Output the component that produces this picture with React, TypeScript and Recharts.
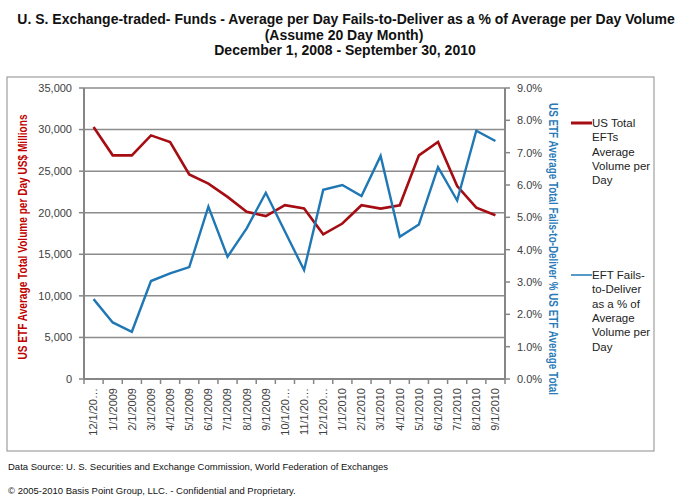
import React from "react";
import {
  LineChart,
  Line,
  XAxis,
  YAxis,
  CartesianGrid,
} from "recharts";

const months = [
  "12/1/2008", "1/1/2009", "2/1/2009", "3/1/2009", "4/1/2009", "5/1/2009",
  "6/1/2009", "7/1/2009", "8/1/2009", "9/1/2009", "10/1/2009", "11/1/2009",
  "12/1/2009", "1/1/2010", "2/1/2010", "3/1/2010", "4/1/2010", "5/1/2010",
  "6/1/2010", "7/1/2010", "8/1/2010", "9/1/2010",
];

// labels as Excel shows them (long ones cut off)
const tickLabels = [
  "12/1/20…", "1/1/2009", "2/1/2009", "3/1/2009", "4/1/2009", "5/1/2009",
  "6/1/2009", "7/1/2009", "8/1/2009", "9/1/2009", "10/1/20…", "11/1/20…",
  "12/1/20…", "1/1/2010", "2/1/2010", "3/1/2010", "4/1/2010", "5/1/2010",
  "6/1/2010", "7/1/2010", "8/1/2010", "9/1/2010",
];

// US$ millions per day
const avgVolume = [
  30300, 26900, 26900, 29300, 28500, 24600, 23500, 21900, 20100, 19600, 20900,
  20500, 17400, 18700, 20900, 20500, 20900, 26900, 28500, 23200, 20600, 19700,
];

// percent
const failsPct = [
  2.47, 1.75, 1.46, 3.03, 3.27, 3.46, 5.33, 3.78, 4.66, 5.76, 4.56,
  3.37, 5.85, 6.0, 5.66, 6.9, 4.4, 4.78, 6.55, 5.52, 7.68, 7.36,
];

const volumeTicks = [0, 5000, 10000, 15000, 20000, 25000, 30000, 35000];
const pctTicks = [0, 1, 2, 3, 4, 5, 6, 7, 8, 9];

const RED = "#a50d12";
const BLUE = "#1f77b4";
const AXIS = "#868686";
const TEXT = "#404040";

const data = months.map((m, i) => ({
  month: m,
  volume: avgVolume[i],
  fails: failsPct[i],
}));

const W = 690;
const H = 497;
const PLOT_L = 84;
const PLOT_R = 505;
const PLOT_T = 88;
const PLOT_B = 379;
const band = (PLOT_R - PLOT_L) / months.length;

const MonthTick = (props: any) => {
  const { x, y, payload } = props;
  const i = months.indexOf(payload.value);
  const left = x - band / 2;
  return (
    <g>
      <line x1={left} y1={y} x2={left} y2={y + 5} stroke={AXIS} strokeWidth={1.5} />
      {i === months.length - 1 && (
        <line x1={x + band / 2} y1={y} x2={x + band / 2} y2={y + 5} stroke={AXIS} strokeWidth={1.5} />
      )}
      <text
        x={x}
        y={y + 9}
        dy="0.35em"
        transform={`rotate(-90, ${x}, ${y + 9})`}
        textAnchor="end"
        fontSize={11}
        fontFamily="Liberation Sans, Arial, sans-serif"
        fill={TEXT}
      >
        {tickLabels[i]}
      </text>
    </g>
  );
};

const legendFont = "Liberation Sans, Arial, sans-serif";
const narrowFont = "Liberation Sans Narrow, Arial Narrow, Liberation Sans, sans-serif";

export default function App() {
  return (
    <div style={{ position: "absolute", left: 0, top: 0, width: W, height: H, background: "#fff" }}>
      <LineChart
        width={W}
        height={H}
        data={data}
        margin={{ top: PLOT_T, left: PLOT_L - 60, right: W - PLOT_R - 50, bottom: H - PLOT_B - 60 }}
      >
        <CartesianGrid yAxisId="left" vertical={false} stroke="#8c8c8c" strokeWidth={1.5} />
        <XAxis
          dataKey="month"
          height={60}
          interval={0}
          padding={{ left: band / 2, right: band / 2 }}
          tickLine={false}
          tickSize={0}
          tickMargin={0}
          axisLine={{ stroke: AXIS, strokeWidth: 2 }}
          tick={<MonthTick />}
        />
        <YAxis
          yAxisId="left"
          width={60}
          domain={[0, 35000]}
          ticks={volumeTicks}
          tickFormatter={(v) => v.toLocaleString("en-US")}
          tick={{ fontSize: 11, fill: TEXT, fontFamily: legendFont }}
          tickLine={{ stroke: AXIS, strokeWidth: 1.5 }}
          tickSize={5}
          tickMargin={7}
          axisLine={{ stroke: AXIS, strokeWidth: 2 }}
        />
        <YAxis
          yAxisId="right"
          orientation="right"
          width={50}
          domain={[0, 9]}
          ticks={pctTicks}
          tickFormatter={(v) => `${v.toFixed(1)}%`}
          tick={{ fontSize: 11, fill: TEXT, fontFamily: legendFont }}
          tickLine={{ stroke: AXIS, strokeWidth: 1.5 }}
          tickSize={5}
          tickMargin={7}
          axisLine={{ stroke: AXIS, strokeWidth: 2 }}
        />
        <Line
          yAxisId="left"
          type="linear"
          dataKey="volume"
          stroke={RED}
          strokeWidth={2.6}
          dot={false}
          isAnimationActive={false}
        />
        <Line
          yAxisId="right"
          type="linear"
          dataKey="fails"
          stroke={BLUE}
          strokeWidth={2.4}
          dot={false}
          isAnimationActive={false}
        />
      </LineChart>

      <svg
        width={W}
        height={H}
        style={{ position: "absolute", left: 0, top: 0, pointerEvents: "none" }}
      >
        <g fontFamily={narrowFont} fontWeight="bold" fontSize={14} fill="#111" textAnchor="middle">
          <text x={346} y={24}>U. S. Exchange-traded- Funds - Average per Day Fails-to-Deliver as a % of Average per Day Volume</text>
          <text x={344} y={40}>(Assume 20 Day Month)</text>
          <text x={345} y={55}>December 1, 2008 - September 30, 2010</text>
        </g>

        <rect x={7} y={77} width={647} height={374} fill="none" stroke="#8c8c8c" strokeWidth={1} />

        <text
          x={23}
          y={237}
          transform="rotate(-90, 23, 237)"
          textAnchor="middle"
          dy="0.35em"
          fontFamily={legendFont}
          fontWeight="bold"
          fontSize={12}
          fill="#c00000"
          textLength={245}
          lengthAdjust="spacingAndGlyphs"
        >
          US ETF Average Total Volume per Day US$ Millions
        </text>
        <text
          x={553}
          y={249}
          transform="rotate(90, 553, 249)"
          textAnchor="middle"
          dy="0.35em"
          fontFamily={legendFont}
          fontWeight="bold"
          fontSize={12}
          fill="#2a7ab8"
          textLength={292}
          lengthAdjust="spacingAndGlyphs"
        >
          US ETF Average Total Fails-to-Deliver  %  US ETF Average Total
        </text>

        <line x1={571} y1={123} x2={592} y2={123} stroke={RED} strokeWidth={3} />
        <g fontFamily={legendFont} fontSize={11.5} fill="#222">
          {["US Total", "EFTs", "Average", "Volume per", "Day"].map((t, i) => (
            <text key={t} x={592} y={127 + i * 14.3}>{t}</text>
          ))}
          {["EFT Fails-", "to-Deliver", "as a % of", "Average", "Volume per", "Day"].map((t, i) => (
            <text key={t + i} x={592} y={279 + i * 14.3}>{t}</text>
          ))}
        </g>
        <line x1={571} y1={275} x2={592} y2={275} stroke={BLUE} strokeWidth={1.5} />

        <g fontFamily={narrowFont} fontSize={9.5} fill="#111">
          <text x={8} y={470}>Data Source:  U. S. Securities and Exchange Commission, World Federation of Exchanges</text>
          <text x={8} y={494}>© 2005-2010 Basis Point Group, LLC. - Confidential and Proprietary.</text>
        </g>
      </svg>
    </div>
  );
}
